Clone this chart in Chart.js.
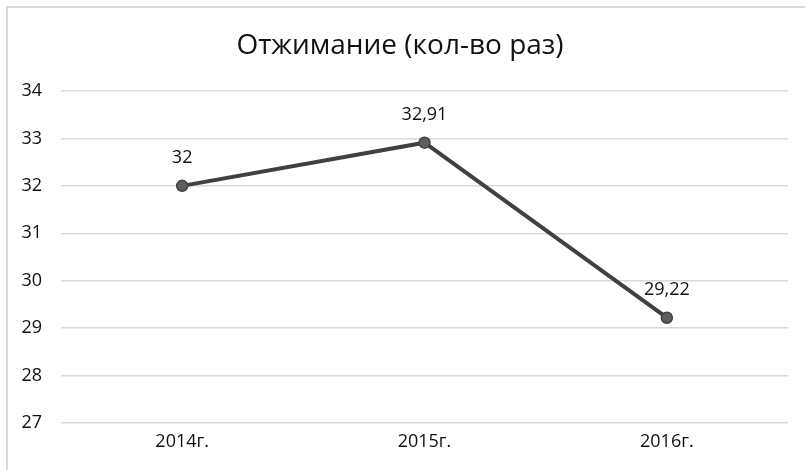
<!DOCTYPE html>
<html>
<head>
<meta charset="utf-8">
<script src="https://cdn.jsdelivr.net/npm/chart.js@4.4.1/dist/chart.umd.min.js"></script>
<style>
  html, body { margin: 0; padding: 0; background: #fff; }
  #chart { display: block; }
</style>
</head>
<body>
<canvas id="chart" width="805" height="470"></canvas>
<script>
// ===== DATA =====
const years  = ["2014г.", "2015г.", "2016г."];
const pushUps = [32, 32.91, 29.22];
const yMin = 27, yMax = 34;
const chartTitle = "Отжимание (кол-во раз)";

const FONT = "'Open Sans', sans-serif";
const INK  = "#404040";
const TEXT = "#111";

// ===== PLUGIN: frame, title, value labels =====
const decor = {
  id: "decor",
  beforeDraw(chart) {
    const ctx = chart.ctx;
    ctx.save();
    ctx.strokeStyle = "#d9d9d9";
    ctx.lineWidth = 2;
    ctx.strokeRect(7, 7, chart.width, chart.height);
    ctx.fillStyle = TEXT;
    ctx.font = "28px " + FONT;
    ctx.textAlign = "center";
    ctx.textBaseline = "middle";
    ctx.fillText(chartTitle, 400, 46);
    ctx.restore();
  },
  afterDatasetsDraw(chart) {
    const ctx = chart.ctx;
    const meta = chart.getDatasetMeta(0);
    ctx.save();
    ctx.fillStyle = TEXT;
    ctx.font = "18px " + FONT;
    ctx.textAlign = "center";
    ctx.textBaseline = "middle";
    meta.data.forEach((pt, i) => {
      const txt = String(pushUps[i]).replace(".", ",");
      ctx.fillText(txt, pt.x, pt.y - 28);
    });
    ctx.restore();
  }
};

new Chart(document.getElementById("chart"), {
  type: "line",
  data: {
    labels: years,
    datasets: [{
      data: pushUps,
      borderColor: INK,
      borderWidth: 4,
      pointRadius: 5.5,
      pointBackgroundColor: "#5e5e5e",
      pointBorderColor: INK,
      pointBorderWidth: 1.5,
      tension: 0
    }]
  },
  plugins: [decor],
  options: {
    responsive: false,
    animation: false,
    layout: { padding: { left: 0, right: 17, top: 91, bottom: 0 } },
    plugins: { legend: { display: false }, tooltip: { enabled: false } },
    scales: {
      x: {
        offset: true,
        grid: { display: false, drawTicks: false },
        border: { display: false },
        ticks: { color: TEXT, font: { family: FONT, size: 18 }, padding: 8 },
        afterFit(s) { s.height = 47; }
      },
      y: {
        min: yMin, max: yMax,
        grid: { color: "#d9d9d9", lineWidth: 1.5, drawTicks: false },
        border: { display: false },
        ticks: { stepSize: 1, color: TEXT, font: { family: FONT, size: 18 }, padding: 19 },
        afterFit(s) { s.width = 61; }
      }
    }
  }
});
</script>
</body>
</html>
